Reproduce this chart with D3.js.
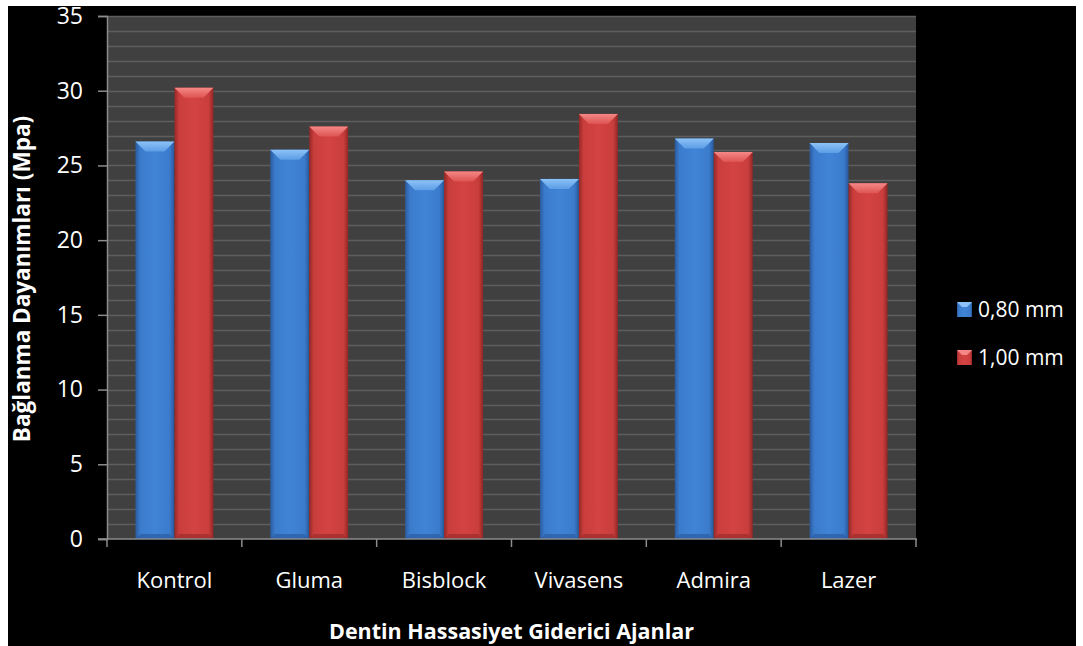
<!DOCTYPE html>
<html>
<head>
<meta charset="utf-8">
<script src="https://cdn.jsdelivr.net/npm/d3@7/dist/d3.min.js"></script>
<style>
body { margin: 0; background: #fff; }
</style>
</head>
<body>
<script>
// data
var categories = ["Kontrol", "Gluma", "Bisblock", "Vivasens", "Admira", "Lazer"];
var seriesNames = ["0,80 mm", "1,00 mm"];
var values080 = [26.6, 26.05, 24.0, 24.1, 26.8, 26.5];
var values100 = [30.2, 27.6, 24.6, 28.45, 25.9, 23.8];
var yTicks = [0, 5, 10, 15, 20, 25, 30, 35];

var W = 1083, H = 646;
var plot = {left: 107, right: 916, top: 16, bottom: 539};
var font = "'Open Sans', Lato, sans-serif";

var svg = d3.select("body").append("svg")
	.attr("width", W)
	.attr("height", H)
	.style("display", "block");

// black chart area with white strip at the left / top / right
svg.append("rect").attr("width", W).attr("height", H).attr("fill", "#fff");
svg.append("rect")
	.attr("x", 8).attr("y", 6)
	.attr("width", 1068).attr("height", H - 6)
	.attr("fill", "#000");

var x = d3.scaleBand()
	.domain(categories)
	.range([plot.left, plot.right])
	.paddingInner(0)
	.paddingOuter(0);

var xs = d3.scaleBand()
	.domain([0, 1])
	.range([0, x.bandwidth()])
	.paddingInner(0)
	.paddingOuter(0.73);

var y = d3.scaleLinear()
	.domain([0, 35])
	.range([plot.bottom, plot.top]);

var defs = svg.append("defs");

function addGrad(id, stops, vertical) {
	var g = defs.append("linearGradient").attr("id", id)
		.attr("x1", "0%").attr("x2", vertical ? "0%" : "100%")
		.attr("y1", "0%").attr("y2", vertical ? "100%" : "0%");
	stops.forEach(function(s) {
		g.append("stop").attr("offset", s[0]).attr("stop-color", s[1]);
	});
}
var palette = [
	{body: ["#2a5a9e", "#3b7bcc", "#4084d6", "#3b7bcc", "#28579a"], top: ["#8cc2f7", "#5c9de6"], bottom: "#2d60a8"},
	{body: ["#962827", "#c93e3d", "#d34342", "#c93e3d", "#922625"], top: ["#f58886", "#dd5452"], bottom: "#a12e2d"}
];
palette.forEach(function(p, i) {
	addGrad("body" + i, [["0%", p.body[0]], ["12%", p.body[1]], ["50%", p.body[2]], ["88%", p.body[3]], ["100%", p.body[4]]]);
	addGrad("top" + i, [["0%", p.top[0]], ["100%", p.top[1]]], true);
});

// plot background
svg.append("rect")
	.attr("x", plot.left).attr("y", plot.top)
	.attr("width", plot.right - plot.left).attr("height", plot.bottom - plot.top)
	.attr("fill", "#404040");

// gridlines, one every unit
var gridVals = d3.range(1, 36);
svg.append("g").selectAll("line")
	.data(gridVals)
	.enter().append("line")
	.attr("x1", plot.left).attr("x2", plot.right)
	.attr("y1", function(d) { return Math.round(y(d)) + 0.5; })
	.attr("y2", function(d) { return Math.round(y(d)) + 0.5; })
	.attr("stroke", "#5e5e5e")
	.attr("stroke-width", 1.3);

// bars
var groups = svg.append("g").selectAll("g")
	.data(categories)
	.enter().append("g")
	.attr("transform", function(d) { return "translate(" + x(d) + ",0)"; });

groups.each(function(cat, ci) {
	var g = d3.select(this);
	[values080[ci], values100[ci]].forEach(function(v, si) {
		var x0 = xs(si), w = xs.bandwidth();
		var y0 = y(v), y1 = y(0);
		var b = 10;
		g.append("rect")
			.attr("x", x0).attr("y", y0)
			.attr("width", w).attr("height", y1 - y0)
			.attr("fill", "url(#body" + si + ")");
		// top bevel
		g.append("path")
			.attr("d", "M" + x0 + "," + y0 + "L" + (x0 + w) + "," + y0 +
				"L" + (x0 + w - b) + "," + (y0 + b) + "L" + (x0 + b) + "," + (y0 + b) + "Z")
			.attr("fill", "url(#top" + si + ")");
		// bottom bevel
		g.append("path")
			.attr("d", "M" + x0 + "," + y1 + "L" + (x0 + w) + "," + y1 +
				"L" + (x0 + w - 5) + "," + (y1 - 5) + "L" + (x0 + 5) + "," + (y1 - 5) + "Z")
			.attr("fill", palette[si].bottom)
			.attr("opacity", 0.8);
	});
});

// axes
var yAxis = d3.axisLeft(y).tickValues(yTicks).tickSize(9).tickPadding(15);
var yg = svg.append("g")
	.attr("transform", "translate(" + plot.left + ",0)")
	.call(yAxis);
yg.select(".domain").attr("stroke", "#8c8c8c").attr("stroke-width", 1.5);
yg.selectAll(".tick line").attr("stroke", "#8c8c8c").attr("stroke-width", 1.5);
yg.selectAll(".tick text")
	.attr("fill", "#fff")
	.attr("font-family", font)
	.style("font-size", "23px");

var xg = svg.append("g")
	.attr("transform", "translate(0," + plot.bottom + ")");
xg.append("line")
	.attr("x1", plot.left - 9).attr("x2", plot.right + 1)
	.attr("y1", 0).attr("y2", 0)
	.attr("stroke", "#8c8c8c").attr("stroke-width", 1.5);
var xTickPos = categories.map(function(c) { return x(c); }).concat([plot.right]);
xg.selectAll(".xt")
	.data(xTickPos)
	.enter().append("line")
	.attr("class", "xt")
	.attr("x1", function(d) { return d; }).attr("x2", function(d) { return d; })
	.attr("y1", 0).attr("y2", 8)
	.attr("stroke", "#8c8c8c").attr("stroke-width", 1.5);
xg.selectAll(".xl")
	.data(categories)
	.enter().append("text")
	.attr("class", "xl")
	.attr("x", function(d) { return x(d) + x.bandwidth() / 2; })
	.attr("y", 49)
	.attr("text-anchor", "middle")
	.attr("fill", "#fff")
	.attr("font-family", font)
	.style("font-size", "22px")
	.text(function(d) { return d; });

// axis titles
svg.append("text")
	.attr("x", (plot.left + plot.right) / 2)
	.attr("y", 639)
	.attr("text-anchor", "middle")
	.attr("fill", "#fff")
	.attr("font-family", font)
	.attr("font-weight", "bold")
	.style("font-size", "21.5px")
	.text("Dentin Hassasiyet Giderici Ajanlar");

svg.append("text")
	.attr("transform", "translate(30,279) rotate(-90)")
	.attr("text-anchor", "middle")
	.attr("fill", "#fff")
	.attr("font-family", font)
	.attr("font-weight", "bold")
	.style("font-size", "22.5px")
	.text("Bağlanma Dayanımları (Mpa)");

// legend
var legend = svg.append("g").attr("transform", "translate(957,302)");
seriesNames.forEach(function(name, i) {
	var lg = legend.append("g").attr("transform", "translate(0," + (i * 48) + ")");
	lg.append("rect").attr("width", 15).attr("height", 15).attr("fill", "url(#body" + i + ")");
	lg.append("path")
		.attr("d", "M0,0L15,0L10,5L5,5Z")
		.attr("fill", palette[i].top[0]);
	lg.append("text")
		.attr("x", 21).attr("y", 15)
		.attr("fill", "#fff")
		.attr("font-family", font)
		.style("font-size", "21px")
		.text(name);
});
</script>
</body>
</html>
